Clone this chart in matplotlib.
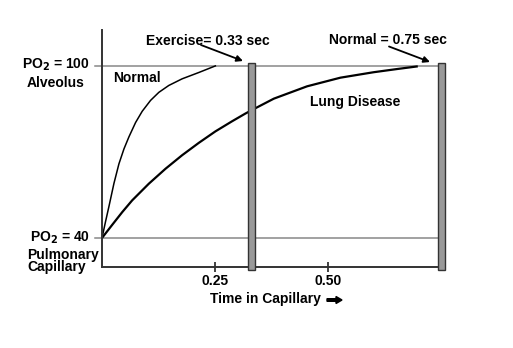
import matplotlib.pyplot as plt
from matplotlib.patches import Rectangle, FancyArrow

plt.rcParams['font.family'] = ['Liberation Sans', 'DejaVu Sans']
plt.rcParams['font.weight'] = 'bold'

# curves (time in sec, PO2 mmHg)
normal_t = [0.0, 0.0077, 0.0154, 0.0264, 0.0374, 0.0485, 0.0595, 0.0742, 0.0888, 0.1073,
            0.1256, 0.1476, 0.1769, 0.2137, 0.2504]
normal_po2 = [40, 45.6, 51.0, 59.0, 65.8, 71.0, 75.2, 80.2, 84.1, 87.9,
              90.7, 93.1, 95.4, 97.6, 99.9]
disease_t = [0.0, 0.0227, 0.0447, 0.0667, 0.1035, 0.1403, 0.1769, 0.2137, 0.2504,
             0.287, 0.3165, 0.3355, 0.3795, 0.453, 0.5264, 0.5998, 0.651, 0.695]
disease_po2 = [40, 44.6, 49.0, 53.1, 58.9, 64.1, 68.8, 73.1, 77.1,
               80.6, 83.3, 84.9, 88.5, 92.8, 95.8, 97.7, 98.8, 99.7]
bar_times = [0.33, 0.75]
bar_labels = ['Exercise= 0.33 sec', 'Normal = 0.75 sec']
xticks = [0.25, 0.50]
xtick_labels = ['0.25', '0.50']
levels = [100, 40]

W, H = 513, 348
fig = plt.figure(figsize=(W / 100, H / 100), dpi=100)


def px(x, y):
    # pixel position in the picture -> figure fraction
    return x / W, 1 - y / H


ax = fig.add_axes([0.1988, 0.2336, 0.662, 0.681])
ax.set_xlim(0, 0.75)
ax.set_ylim(30, 112.5)
for s in ['top', 'right']:
    ax.spines[s].set_visible(False)
for s in ['left', 'bottom']:
    ax.spines[s].set_color('#333333')
    ax.spines[s].set_linewidth(1.4)
ax.set_yticks([])
ax.set_xticks(xticks)
ax.set_xticklabels(xtick_labels, fontsize=10, fontweight='bold')
ax.tick_params(axis='x', direction='inout', length=7, width=1.3, color='#333333', pad=1.5)

for lv in levels:
    ax.plot([-0.016, 0.75], [lv, lv], color='#888888', lw=1.1, clip_on=False, zorder=1)

ax.plot(normal_t, normal_po2, color='black', lw=1.1, zorder=2, solid_joinstyle='round')
ax.plot(disease_t, disease_po2, color='black', lw=1.6, zorder=2, solid_joinstyle='round')

for t in bar_times:
    ax.add_patch(Rectangle((t - 0.0083, 29.0), 0.0166, 71.9, facecolor='#999999',
                           edgecolor='#333333', lw=1.0, clip_on=False, zorder=3))

fs = 10
arrow = dict(arrowstyle='-|>', color='black', lw=1.3, mutation_scale=9, shrinkA=0, shrinkB=0)
fig.text(*px(207.5, 41), bar_labels[0], fontsize=fs, ha='center', va='center')
fig.text(*px(388, 40), bar_labels[1], fontsize=fs, ha='center', va='center')
ax.annotate('', xy=px(243, 61), xytext=px(201, 45), xycoords='figure fraction',
            textcoords='figure fraction', arrowprops=arrow, annotation_clip=False)
ax.annotate('', xy=px(430, 62), xytext=px(389, 46.5), xycoords='figure fraction',
            textcoords='figure fraction', arrowprops=arrow, annotation_clip=False)

fig.text(*px(113, 78), 'Normal', fontsize=fs, va='center')
fig.text(*px(310, 101.5), 'Lung Disease', fontsize=fs, va='center')

fig.text(*px(90, 65), 'PO$_\\mathbf{2}$ = 100', fontsize=fs, ha='right', va='center')
fig.text(*px(27, 83), 'Alveolus', fontsize=fs, va='center')
fig.text(*px(90, 238), 'PO$_\\mathbf{2}$ = 40', fontsize=fs, ha='right', va='center')
fig.text(*px(27, 255), 'Pulmonary', fontsize=fs, va='center')
fig.text(*px(27, 267.5), 'Capillary', fontsize=fs, va='center')

fig.text(*px(210, 299.5), 'Time in Capillary', fontsize=fs, va='center')
x0, y0 = px(327, 300)
fig.patches.append(FancyArrow(x0, y0, 15 / W, 0, width=2.6 / H, head_width=7 / H,
                              head_length=6 / W, length_includes_head=True,
                              color='black', transform=fig.transFigure, figure=fig))

fig.savefig('out.png', dpi=100)
